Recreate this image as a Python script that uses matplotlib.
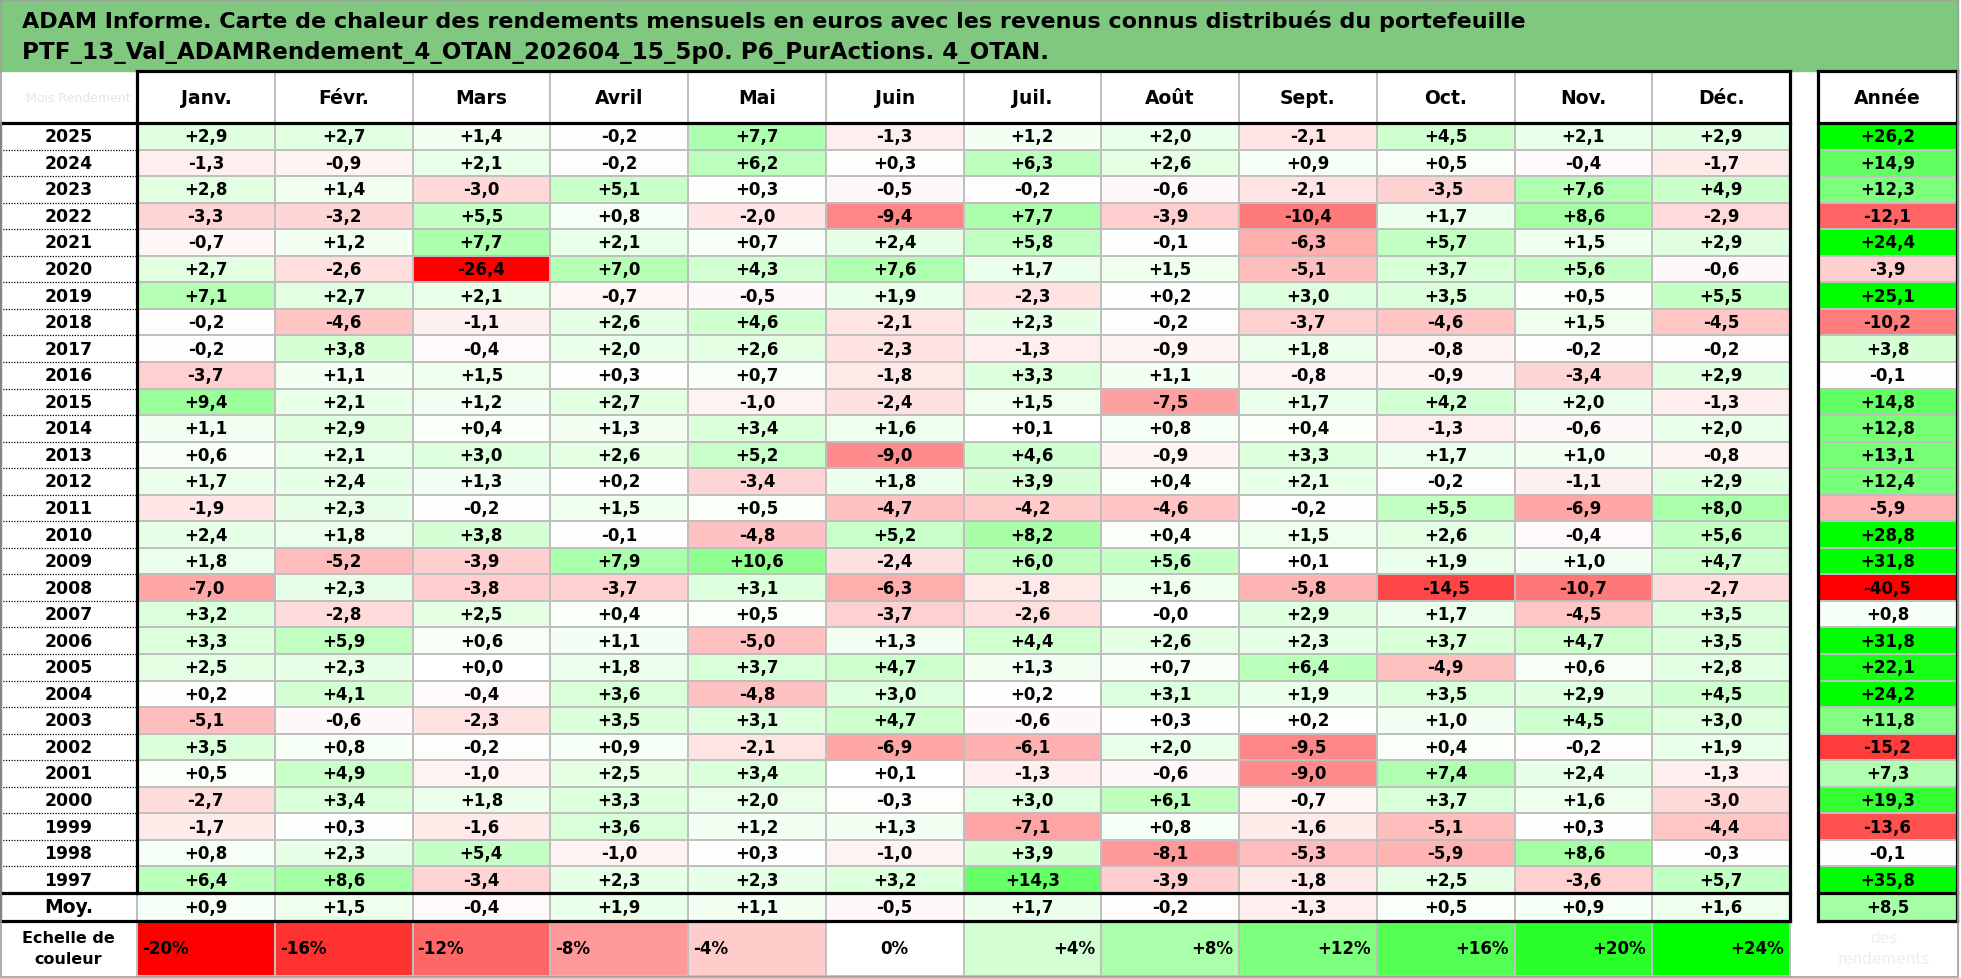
import numpy as np
import matplotlib
matplotlib.use("Agg")
import matplotlib.pyplot as plt
from matplotlib.colors import LinearSegmentedColormap, TwoSlopeNorm
from matplotlib.patches import Rectangle

plt.rcParams['font.family'] = ['DejaVu Sans']

title_1 = "ADAM Informe. Carte de chaleur des rendements mensuels en euros avec les revenus connus distribués du portefeuille"
title_2 = "PTF_13_Val_ADAMRendement_4_OTAN_202604_15_5p0. P6_PurActions. 4_OTAN."

months = ["Janv.", "Févr.", "Mars", "Avril", "Mai", "Juin",
          "Juil.", "Août", "Sept.", "Oct.", "Nov.", "Déc."]
years = [2025, 2024, 2023, 2022, 2021, 2020, 2019, 2018, 2017, 2016, 2015,
         2014, 2013, 2012, 2011, 2010, 2009, 2008, 2007, 2006, 2005, 2004,
         2003, 2002, 2001, 2000, 1999, 1998, 1997]

monthly = np.array([
    [2.9, 2.7, 1.4, -0.2, 7.7, -1.3, 1.2, 2.0, -2.1, 4.5, 2.1, 2.9],
    [-1.3, -0.9, 2.1, -0.2, 6.2, 0.3, 6.3, 2.6, 0.9, 0.5, -0.4, -1.7],
    [2.8, 1.4, -3.0, 5.1, 0.3, -0.5, -0.2, -0.6, -2.1, -3.5, 7.6, 4.9],
    [-3.3, -3.2, 5.5, 0.8, -2.0, -9.4, 7.7, -3.9, -10.4, 1.7, 8.6, -2.9],
    [-0.7, 1.2, 7.7, 2.1, 0.7, 2.4, 5.8, -0.1, -6.3, 5.7, 1.5, 2.9],
    [2.7, -2.6, -26.4, 7.0, 4.3, 7.6, 1.7, 1.5, -5.1, 3.7, 5.6, -0.6],
    [7.1, 2.7, 2.1, -0.7, -0.5, 1.9, -2.3, 0.2, 3.0, 3.5, 0.5, 5.5],
    [-0.2, -4.6, -1.1, 2.6, 4.6, -2.1, 2.3, -0.2, -3.7, -4.6, 1.5, -4.5],
    [-0.2, 3.8, -0.4, 2.0, 2.6, -2.3, -1.3, -0.9, 1.8, -0.8, -0.2, -0.2],
    [-3.7, 1.1, 1.5, 0.3, 0.7, -1.8, 3.3, 1.1, -0.8, -0.9, -3.4, 2.9],
    [9.4, 2.1, 1.2, 2.7, -1.0, -2.4, 1.5, -7.5, 1.7, 4.2, 2.0, -1.3],
    [1.1, 2.9, 0.4, 1.3, 3.4, 1.6, 0.1, 0.8, 0.4, -1.3, -0.6, 2.0],
    [0.6, 2.1, 3.0, 2.6, 5.2, -9.0, 4.6, -0.9, 3.3, 1.7, 1.0, -0.8],
    [1.7, 2.4, 1.3, 0.2, -3.4, 1.8, 3.9, 0.4, 2.1, -0.2, -1.1, 2.9],
    [-1.9, 2.3, -0.2, 1.5, 0.5, -4.7, -4.2, -4.6, -0.2, 5.5, -6.9, 8.0],
    [2.4, 1.8, 3.8, -0.1, -4.8, 5.2, 8.2, 0.4, 1.5, 2.6, -0.4, 5.6],
    [1.8, -5.2, -3.9, 7.9, 10.6, -2.4, 6.0, 5.6, 0.1, 1.9, 1.0, 4.7],
    [-7.0, 2.3, -3.8, -3.7, 3.1, -6.3, -1.8, 1.6, -5.8, -14.5, -10.7, -2.7],
    [3.2, -2.8, 2.5, 0.4, 0.5, -3.7, -2.6, -0.0, 2.9, 1.7, -4.5, 3.5],
    [3.3, 5.9, 0.6, 1.1, -5.0, 1.3, 4.4, 2.6, 2.3, 3.7, 4.7, 3.5],
    [2.5, 2.3, 0.0, 1.8, 3.7, 4.7, 1.3, 0.7, 6.4, -4.9, 0.6, 2.8],
    [0.2, 4.1, -0.4, 3.6, -4.8, 3.0, 0.2, 3.1, 1.9, 3.5, 2.9, 4.5],
    [-5.1, -0.6, -2.3, 3.5, 3.1, 4.7, -0.6, 0.3, 0.2, 1.0, 4.5, 3.0],
    [3.5, 0.8, -0.2, 0.9, -2.1, -6.9, -6.1, 2.0, -9.5, 0.4, -0.2, 1.9],
    [0.5, 4.9, -1.0, 2.5, 3.4, 0.1, -1.3, -0.6, -9.0, 7.4, 2.4, -1.3],
    [-2.7, 3.4, 1.8, 3.3, 2.0, -0.3, 3.0, 6.1, -0.7, 3.7, 1.6, -3.0],
    [-1.7, 0.3, -1.6, 3.6, 1.2, 1.3, -7.1, 0.8, -1.6, -5.1, 0.3, -4.4],
    [0.8, 2.3, 5.4, -1.0, 0.3, -1.0, 3.9, -8.1, -5.3, -5.9, 8.6, -0.3],
    [6.4, 8.6, -3.4, 2.3, 2.3, 3.2, 14.3, -3.9, -1.8, 2.5, -3.6, 5.7],
])
annual = [26.2, 14.9, 12.3, -12.1, 24.4, -3.9, 25.1, -10.2, 3.8, -0.1, 14.8,
          12.8, 13.1, 12.4, -5.9, 28.8, 31.8, -40.5, 0.8, 31.8, 22.1, 24.2,
          11.8, -15.2, 7.3, 19.3, -13.6, -0.1, 35.8]
month_avg = [0.9, 1.5, -0.4, 1.9, 1.1, -0.5, 1.7, -0.2, -1.3, 0.5, 0.9, 1.6]
annual_avg = 8.5
scale_steps = [-20, -16, -12, -8, -4, 0, 4, 8, 12, 16, 20, 24]

cmap = LinearSegmentedColormap.from_list("rg", ["#FF0000", "#FFFFFF", "#00FF00"])
norm = TwoSlopeNorm(vmin=-20, vcenter=0, vmax=24)


def fmt(v):
    return f"{v:+.1f}".replace(".", ",")


# layout in pixels
W, H = 1961, 979
lab_w = 137
col_w = 137.75
x_months = lab_w + np.arange(13) * col_w
x_year0, x_year1 = 1818, 1957
y_head0, y_head1 = 72, 124
row_h = 26.55
y_rows = y_head1 + np.arange(len(years) + 1) * row_h
y_avg1 = y_rows[-1] + 28
y_scale1 = 977
grid = "#BFBFBF"
thick = 2.3
fs = 12
fs_year = 12.4
fs_head = 13.5

fig = plt.figure(figsize=(W / 100, H / 100), dpi=100)
ax = fig.add_axes([0, 0, 1, 1])
ax.set_xlim(0, W)
ax.set_ylim(H, 0)
ax.axis("off")

# title band, first line sized to the width it takes in the reference
ax.add_patch(Rectangle((0, 0), 1958, y_head0, color="#80C880", zorder=1))
t1 = ax.text(22, 21, title_1, fontsize=14, weight="bold", va="center", ha="left")
t2 = ax.text(22, 53, title_2, fontsize=14, weight="bold", va="center", ha="left")
fig.canvas.draw()
title_fs = 14 * (1533 - 22) / t1.get_window_extent().width
t1.set_fontsize(title_fs)
t2.set_fontsize(title_fs * 1.03)

# monthly cells
ax.pcolormesh(x_months, y_rows, monthly, cmap=cmap, norm=norm,
              edgecolors=grid, linewidth=1.4, zorder=2)
ax.pcolormesh(x_months, [y_rows[-1], y_avg1], np.array([month_avg]), cmap=cmap,
              norm=norm, edgecolors=grid, linewidth=1.4, zorder=2)
ax.pcolormesh([x_year0, x_year1], y_rows, np.array(annual)[:, None], cmap=cmap,
              norm=norm, edgecolors=grid, linewidth=1.4, zorder=2)
ax.pcolormesh([x_year0, x_year1], [y_rows[-1], y_avg1], np.array([[annual_avg]]),
              cmap=cmap, norm=norm, edgecolors=grid, linewidth=1.4, zorder=2)
ax.pcolormesh(x_months, [y_avg1, y_scale1], np.array([scale_steps]), cmap=cmap,
              norm=norm, edgecolors=grid, linewidth=1.4, zorder=2)

# header grid lines
for x in x_months[1:-1]:
    ax.plot([x, x], [y_head0, y_head1], color=grid, lw=1.4, zorder=3)

for j, m in enumerate(months):
    ax.text((x_months[j] + x_months[j + 1]) / 2, (y_head0 + y_head1) / 2, m,
            fontsize=fs_head, weight="bold", ha="center", va="center", zorder=5)
ax.text((x_year0 + x_year1) / 2, (y_head0 + y_head1) / 2, "Année",
        fontsize=fs_head, weight="bold", ha="center", va="center", zorder=5)
ax.text(lab_w - 6, (y_head0 + y_head1) / 2, "Mois Rendement", fontsize=9,
        color="#E6E6E6", ha="right", va="center", zorder=5)

# values
for i, yr in enumerate(years):
    yc = (y_rows[i] + y_rows[i + 1]) / 2
    ax.text(lab_w / 2, yc, str(yr), fontsize=fs_year, weight="bold",
            ha="center", va="center", zorder=5)
    for j in range(12):
        ax.text((x_months[j] + x_months[j + 1]) / 2, yc, fmt(monthly[i, j]),
                fontsize=fs, weight="bold", ha="center", va="center", zorder=5)
    ax.text((x_year0 + x_year1) / 2, yc, fmt(annual[i]), fontsize=fs,
            weight="bold", ha="center", va="center", zorder=5)
    if i < len(years) - 1:
        ax.plot([0, lab_w], [y_rows[i + 1]] * 2, color="black", lw=0.9,
                ls=(0, (1, 1.2)), zorder=3)

yc = (y_rows[-1] + y_avg1) / 2
ax.text(lab_w / 2, yc, "Moy.", fontsize=fs_head, weight="bold", ha="center",
        va="center", zorder=5)
for j in range(12):
    ax.text((x_months[j] + x_months[j + 1]) / 2, yc, fmt(month_avg[j]),
            fontsize=fs, weight="bold", ha="center", va="center", zorder=5)
ax.text((x_year0 + x_year1) / 2, yc, fmt(annual_avg), fontsize=fs,
        weight="bold", ha="center", va="center", zorder=5)

# colour scale row
yc = (y_avg1 + y_scale1) / 2
ax.text(lab_w / 2, yc, "Echelle de\ncouleur", fontsize=11.5, weight="bold",
        ha="center", va="center", linespacing=1.5, zorder=5)
for j, s in enumerate(scale_steps):
    if s < 0:
        ax.text(x_months[j] + 5, yc, f"{s}%", fontsize=fs, weight="bold",
                ha="left", va="center", zorder=5)
    elif s == 0:
        ax.text((x_months[j] + x_months[j + 1]) / 2, yc, "0%", fontsize=fs,
                weight="bold", ha="center", va="center", zorder=5)
    else:
        ax.text(x_months[j + 1] - 6, yc, f"+{s}%", fontsize=fs, weight="bold",
                ha="right", va="center", zorder=5)
ax.text((x_months[-1] + x_year1) / 2 + 10, yc, "des\nrendements", fontsize=11,
        color="#EEEEEE", ha="center", va="center", linespacing=1.5, zorder=5)

# thick black borders
k = dict(color="black", lw=thick, zorder=6, solid_capstyle="projecting")
ax.plot([lab_w, x_months[-1]], [y_head0, y_head0], **k)
ax.plot([0, x_months[-1]], [y_head1, y_head1], **k)
ax.plot([0, x_months[-1]], [y_rows[-1], y_rows[-1]], **k)
ax.plot([0, x_months[-1]], [y_avg1, y_avg1], **k)
ax.plot([0, 0], [y_head1, y_avg1], **k)
ax.plot([lab_w, lab_w], [y_head0, y_rows[-1]], **k)
ax.plot([x_months[-1], x_months[-1]], [y_head0, y_avg1], **k)
for yy in (y_head0, y_head1, y_rows[-1], y_avg1):
    ax.plot([x_year0, x_year1], [yy, yy], **k)
ax.plot([x_year0, x_year0], [y_head0, y_avg1], **k)
ax.plot([x_year1, x_year1], [y_head0, y_avg1], **k)

# outer frame
ax.add_patch(Rectangle((1, 1), 1957, 977, fill=False, ec="#A0A0A0", lw=1.2, zorder=7))

fig.savefig("out.png", dpi=100)
